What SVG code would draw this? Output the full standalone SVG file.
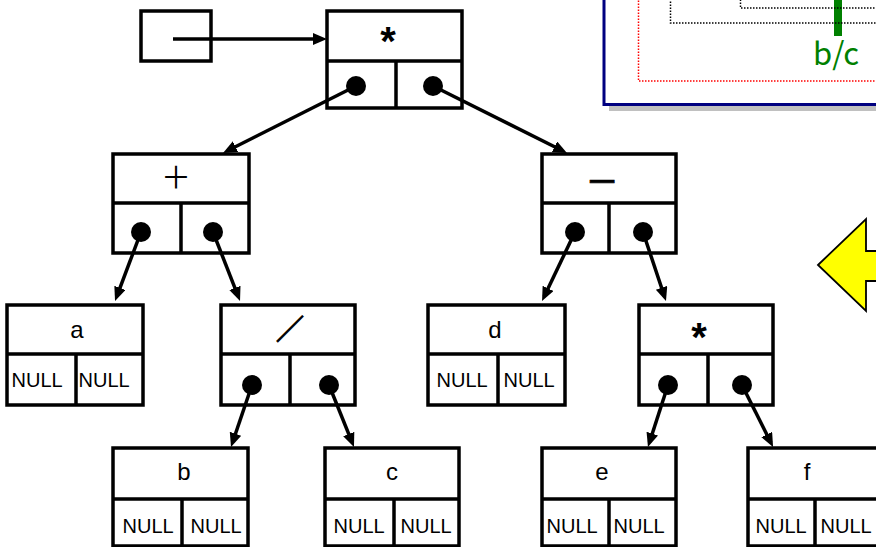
<svg xmlns="http://www.w3.org/2000/svg" width="876" height="547" viewBox="0 0 876 547">
<style>
.box{fill:#fff;stroke:#000;stroke-width:3.5}
.div{stroke:#000;stroke-width:3.5;fill:none}
.dot{fill:#000}
.nul{font-family:"Liberation Sans",Arial,sans-serif;font-size:20px;fill:#000}
.let{font-family:"Liberation Sans",Arial,sans-serif;font-size:24px;fill:#000;text-anchor:middle}
.op{font-family:"Noto Sans CJK JP",sans-serif;fill:#000;text-anchor:middle}
.ast{font-family:"Liberation Sans",Arial,sans-serif;font-weight:bold;font-size:40px;fill:#000;text-anchor:middle}
.con{stroke:#000;stroke-width:3.5;fill:none;marker-end:url(#ah)}
</style>
<defs>
<marker id="ah" markerUnits="userSpaceOnUse" markerWidth="16" markerHeight="14" refX="9" refY="6" orient="auto">
<path d="M0,0 L14,6 L0,12 z" fill="#000"/>
</marker>
</defs>
<rect width="876" height="547" fill="#fff"/>

<!-- top-right partial window -->
<g id="window">
<rect x="609" y="104" width="280" height="7" fill="#c0c0c0"/>
<rect x="604" y="-10" width="290" height="114.5" fill="#fff" stroke="#000080" stroke-width="3"/>
<rect x="834" y="-2" width="8" height="38" fill="#008000"/>
<rect x="638.5" y="-10" width="260" height="91" fill="none" stroke="#ff0000" stroke-width="1.5" stroke-dasharray="1.5 1.5"/>
<rect x="670.5" y="-10" width="230" height="33" fill="none" stroke="#000" stroke-width="1.5" stroke-dasharray="1.5 1.5"/>
<rect x="740.5" y="-10" width="160" height="18" fill="none" stroke="#000" stroke-width="1.5" stroke-dasharray="1.5 1.5"/>
<text x="836" y="65" font-family="Noto Sans CJK JP,sans-serif" font-size="31" fill="#008000" text-anchor="middle" textLength="46" lengthAdjust="spacingAndGlyphs">b/c</text>
</g>

<!-- yellow arrow -->
<g id="yellow-arrow">
<polygon points="818,265 866,219 866,251 882,251 882,281 866,281 866,311" fill="#ffff00" stroke="#000" stroke-width="1.8" stroke-linejoin="miter"/>
</g>

<!-- pointer box -->
<g id="ptr">
<rect class="box" x="141" y="11" width="70" height="50"/>
</g>

<!-- root * -->
<g id="n-root">
<rect class="box" x="327" y="11" width="135" height="97"/>
<path class="div" d="M327,61 H462 M396,61 V108"/>
<text class="ast" x="388" y="55">*</text>
<circle class="dot" cx="356" cy="86" r="10"/>
<circle class="dot" cx="433" cy="86" r="10"/>
</g>

<g id="n-plus">
<rect class="box" x="113" y="154" width="136" height="99"/>
<path class="div" d="M113,203 H249 M181,203 V253"/>
<text class="op" x="176" y="188" font-size="30">＋</text>
<circle class="dot" cx="141" cy="232" r="10"/>
<circle class="dot" cx="213" cy="232" r="10"/>
</g>

<g id="n-minus">
<rect class="box" x="542" y="154" width="134" height="99"/>
<path class="div" d="M542,203 H676 M609,203 V253"/>
<text class="op" x="602" y="190" font-size="30" font-weight="bold" stroke="#000" stroke-width="0.6">—</text>
<circle class="dot" cx="575" cy="232" r="10"/>
<circle class="dot" cx="643" cy="232" r="10"/>
</g>

<g id="n-a">
<rect class="box" x="7" y="305" width="136" height="100"/>
<path class="div" d="M7,354 H143 M76,354 V405"/>
<text class="let" x="77" y="338">a</text>
<text class="nul" x="11.5" y="387">NULL</text>
<text class="nul" x="78.5" y="387">NULL</text>
</g>

<g id="n-slash">
<rect class="box" x="221" y="305" width="134" height="100"/>
<path class="div" d="M221,354 H355 M290,354 V405"/>
<text class="op" x="290" y="340" font-size="28" font-weight="bold" stroke="#000" stroke-width="0.9">／</text>
<circle class="dot" cx="252" cy="385" r="10"/>
<circle class="dot" cx="329" cy="385" r="10"/>
</g>

<g id="n-d">
<rect class="box" x="428" y="305" width="137" height="100"/>
<path class="div" d="M428,354 H565 M498,354 V405"/>
<text class="let" x="495" y="338">d</text>
<text class="nul" x="436.5" y="387">NULL</text>
<text class="nul" x="503.5" y="387">NULL</text>
</g>

<g id="n-mul">
<rect class="box" x="639" y="305" width="134" height="100"/>
<path class="div" d="M639,354 H773 M708,354 V405"/>
<text class="ast" x="699" y="351">*</text>
<circle class="dot" cx="668" cy="385" r="10"/>
<circle class="dot" cx="742" cy="385" r="10"/>
</g>

<g id="n-b">
<rect class="box" x="113" y="448" width="135" height="98"/>
<path class="div" d="M113,499 H248 M182,499 V546"/>
<text class="let" x="184" y="480">b</text>
<text class="nul" x="122.5" y="533">NULL</text>
<text class="nul" x="190.5" y="533">NULL</text>
</g>

<g id="n-c">
<rect class="box" x="325" y="448" width="134" height="98"/>
<path class="div" d="M325,499 H459 M394,499 V546"/>
<text class="let" x="392" y="480">c</text>
<text class="nul" x="333.5" y="533">NULL</text>
<text class="nul" x="400.5" y="533">NULL</text>
</g>

<g id="n-e">
<rect class="box" x="542" y="448" width="134" height="98"/>
<path class="div" d="M542,499 H676 M609,499 V546"/>
<text class="let" x="602" y="480">e</text>
<text class="nul" x="546.5" y="533">NULL</text>
<text class="nul" x="613.5" y="533">NULL</text>
</g>

<g id="n-f">
<rect class="box" x="748" y="448" width="134" height="98"/>
<path class="div" d="M748,499 H882 M815,499 V546"/>
<text class="let" x="807" y="480">f</text>
<text class="nul" x="755.5" y="533">NULL</text>
<text class="nul" x="820.5" y="533">NULL</text>
</g>

<g id="connectors">
<line class="con" x1="173" y1="39" x2="322" y2="39"/>
<line class="con" x1="356" y1="86" x2="227.5" y2="150.7"/>
<line class="con" x1="433" y1="86" x2="562.5" y2="150.8"/>
<line class="con" x1="141" y1="232" x2="116.8" y2="296.3"/>
<line class="con" x1="213" y1="232" x2="238.2" y2="296.3"/>
<line class="con" x1="575" y1="232" x2="544.2" y2="296.5"/>
<line class="con" x1="643" y1="232" x2="664.4" y2="296.3"/>
<line class="con" x1="252" y1="385" x2="232.6" y2="442.3"/>
<line class="con" x1="329" y1="385" x2="352.1" y2="442.4"/>
<line class="con" x1="668" y1="385" x2="649.5" y2="442.2"/>
<line class="con" x1="742" y1="385" x2="770.8" y2="442.5"/>
</g>
</svg>
